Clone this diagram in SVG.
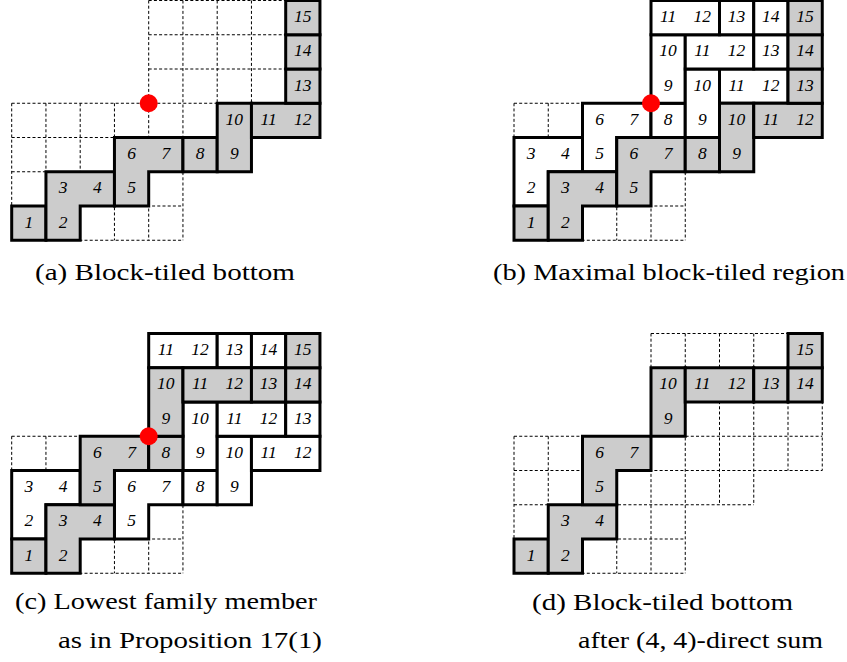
<svg xmlns="http://www.w3.org/2000/svg" xmlns:xlink="http://www.w3.org/1999/xlink" width="847" height="662" viewBox="0 0 847 662">
<style>
.g{fill:#cccccc;stroke:#000;stroke-width:3;stroke-linejoin:miter}
.w{fill:#ffffff;stroke:#000;stroke-width:3;stroke-linejoin:miter}
.n{font-family:"Liberation Serif","Times New Roman",serif;font-style:italic;font-size:17.5px;text-anchor:middle;fill:#000}
.cap{font-family:"Liberation Serif","Times New Roman",serif;font-size:23.5px;fill:#000}
.dot{fill:#ff0000}
</style>
<defs>
<g id="grid" stroke="#000" stroke-width="1" stroke-dasharray="3 2.2" fill="none">
<line x1="137" y1="0" x2="308.25" y2="0"/>
<line x1="137" y1="34.25" x2="308.25" y2="34.25"/>
<line x1="137" y1="68.5" x2="308.25" y2="68.5"/>
<line x1="0" y1="102.75" x2="308.25" y2="102.75"/>
<line x1="0" y1="137" x2="308.25" y2="137"/>
<line x1="0" y1="171.25" x2="239.75" y2="171.25"/>
<line x1="0" y1="205.5" x2="171.25" y2="205.5"/>
<line x1="0" y1="239.75" x2="171.25" y2="239.75"/>
<line x1="0" y1="102.75" x2="0" y2="239.75"/>
<line x1="34.25" y1="102.75" x2="34.25" y2="239.75"/>
<line x1="68.5" y1="102.75" x2="68.5" y2="239.75"/>
<line x1="102.75" y1="102.75" x2="102.75" y2="239.75"/>
<line x1="137" y1="0" x2="137" y2="239.75"/>
<line x1="171.25" y1="0" x2="171.25" y2="239.75"/>
<line x1="205.5" y1="0" x2="205.5" y2="171.25"/>
<line x1="239.75" y1="0" x2="239.75" y2="171.25"/>
<line x1="274" y1="0" x2="274" y2="137"/>
<line x1="308.25" y1="0" x2="308.25" y2="137"/>
</g>
<rect id="c1" width="34.25" height="34.25"/>
<rect id="hd" width="68.5" height="34.25"/>
<rect id="vd" width="34.25" height="68.5"/>
<path id="el" d="M0 0H68.5V34.25H34.25V68.5H0Z"/>
</defs>

<!-- Panel (a) -->
<g id="panel-a" transform="translate(11.7,0.5)">
<use href="#grid" xlink:href="#grid"/>
<g id="a-1"><use href="#c1" xlink:href="#c1" class="g" x="0" y="205.5"/><text class="n" x="17.1" y="227">1</text></g>
<g id="a-2"><use href="#el" xlink:href="#el" class="g" x="34.25" y="171.25"/><text class="n" x="51.35" y="192.75">3</text><text class="n" x="85.6" y="192.75">4</text><text class="n" x="51.35" y="227">2</text></g>
<g id="a-3"><use href="#el" xlink:href="#el" class="g" x="102.75" y="137"/><text class="n" x="119.85" y="158.5">6</text><text class="n" x="154.1" y="158.5">7</text><text class="n" x="119.85" y="192.75">5</text></g>
<g id="a-4"><use href="#c1" xlink:href="#c1" class="g" x="171.25" y="137"/><text class="n" x="188.35" y="158.5">8</text></g>
<g id="a-5"><use href="#vd" xlink:href="#vd" class="g" x="205.5" y="102.75"/><text class="n" x="222.6" y="124.25">10</text><text class="n" x="222.6" y="158.5">9</text></g>
<g id="a-6"><use href="#hd" xlink:href="#hd" class="g" x="239.75" y="102.75"/><text class="n" x="256.85" y="124.25">11</text><text class="n" x="291.1" y="124.25">12</text></g>
<g id="a-7"><use href="#c1" xlink:href="#c1" class="g" x="274" y="68.5"/><text class="n" x="291.1" y="90">13</text></g>
<g id="a-8"><use href="#c1" xlink:href="#c1" class="g" x="274" y="34.25"/><text class="n" x="291.1" y="55.75">14</text></g>
<g id="a-9"><use href="#c1" xlink:href="#c1" class="g" x="274" y="0"/><text class="n" x="291.1" y="21.5">15</text></g>
<circle id="a-dot" class="dot" cx="137" cy="102.75" r="9"/>
</g>

<!-- Panel (b) -->
<g id="panel-b" transform="translate(514,0.5)">
<use href="#grid" xlink:href="#grid"/>
<g id="b-w1"><use href="#el" xlink:href="#el" class="w" x="0" y="137"/><text class="n" x="17.1" y="158.5">3</text><text class="n" x="51.35" y="158.5">4</text><text class="n" x="17.1" y="192.75">2</text></g>
<g id="b-w2"><use href="#el" xlink:href="#el" class="w" x="68.5" y="102.75"/><text class="n" x="85.6" y="124.25">6</text><text class="n" x="119.85" y="124.25">7</text><text class="n" x="85.6" y="158.5">5</text></g>
<g id="b-w3"><use href="#c1" xlink:href="#c1" class="w" x="137" y="102.75"/><text class="n" x="154.1" y="124.25">8</text></g>
<g id="b-w4"><use href="#vd" xlink:href="#vd" class="w" x="137" y="34.25"/><text class="n" x="154.1" y="55.75">10</text><text class="n" x="154.1" y="90">9</text></g>
<g id="b-w5"><use href="#vd" xlink:href="#vd" class="w" x="171.25" y="68.5"/><text class="n" x="188.35" y="90">10</text><text class="n" x="188.35" y="124.25">9</text></g>
<g id="b-w6"><use href="#hd" xlink:href="#hd" class="w" x="205.5" y="68.5"/><text class="n" x="222.6" y="90">11</text><text class="n" x="256.85" y="90">12</text></g>
<g id="b-w7"><use href="#hd" xlink:href="#hd" class="w" x="171.25" y="34.25"/><text class="n" x="188.35" y="55.75">11</text><text class="n" x="222.6" y="55.75">12</text></g>
<g id="b-w8"><use href="#c1" xlink:href="#c1" class="w" x="239.75" y="34.25"/><text class="n" x="256.85" y="55.75">13</text></g>
<g id="b-w9"><use href="#hd" xlink:href="#hd" class="w" x="137" y="0"/><text class="n" x="154.1" y="21.5">11</text><text class="n" x="188.35" y="21.5">12</text></g>
<g id="b-w10"><use href="#c1" xlink:href="#c1" class="w" x="205.5" y="0"/><text class="n" x="222.6" y="21.5">13</text></g>
<g id="b-w11"><use href="#c1" xlink:href="#c1" class="w" x="239.75" y="0"/><text class="n" x="256.85" y="21.5">14</text></g>
<g id="b-1"><use href="#c1" xlink:href="#c1" class="g" x="0" y="205.5"/><text class="n" x="17.1" y="227">1</text></g>
<g id="b-2"><use href="#el" xlink:href="#el" class="g" x="34.25" y="171.25"/><text class="n" x="51.35" y="192.75">3</text><text class="n" x="85.6" y="192.75">4</text><text class="n" x="51.35" y="227">2</text></g>
<g id="b-3"><use href="#el" xlink:href="#el" class="g" x="102.75" y="137"/><text class="n" x="119.85" y="158.5">6</text><text class="n" x="154.1" y="158.5">7</text><text class="n" x="119.85" y="192.75">5</text></g>
<g id="b-4"><use href="#c1" xlink:href="#c1" class="g" x="171.25" y="137"/><text class="n" x="188.35" y="158.5">8</text></g>
<g id="b-5"><use href="#vd" xlink:href="#vd" class="g" x="205.5" y="102.75"/><text class="n" x="222.6" y="124.25">10</text><text class="n" x="222.6" y="158.5">9</text></g>
<g id="b-6"><use href="#hd" xlink:href="#hd" class="g" x="239.75" y="102.75"/><text class="n" x="256.85" y="124.25">11</text><text class="n" x="291.1" y="124.25">12</text></g>
<g id="b-7"><use href="#c1" xlink:href="#c1" class="g" x="274" y="68.5"/><text class="n" x="291.1" y="90">13</text></g>
<g id="b-8"><use href="#c1" xlink:href="#c1" class="g" x="274" y="34.25"/><text class="n" x="291.1" y="55.75">14</text></g>
<g id="b-9"><use href="#c1" xlink:href="#c1" class="g" x="274" y="0"/><text class="n" x="291.1" y="21.5">15</text></g>
<circle id="b-dot" class="dot" cx="137" cy="102.75" r="9"/>
</g>

<!-- Panel (c) -->
<g id="panel-c" transform="translate(11.7,333.5)">
<use href="#grid" xlink:href="#grid"/>
<g id="c-w1"><use href="#el" xlink:href="#el" class="w" x="0" y="137"/><text class="n" x="17.1" y="158.5">3</text><text class="n" x="51.35" y="158.5">4</text><text class="n" x="17.1" y="192.75">2</text></g>
<g id="c-w2"><use href="#el" xlink:href="#el" class="w" x="102.75" y="137"/><text class="n" x="119.85" y="158.5">6</text><text class="n" x="154.1" y="158.5">7</text><text class="n" x="119.85" y="192.75">5</text></g>
<g id="c-w3"><use href="#c1" xlink:href="#c1" class="w" x="171.25" y="137"/><text class="n" x="188.35" y="158.5">8</text></g>
<g id="c-w4"><use href="#vd" xlink:href="#vd" class="w" x="171.25" y="68.5"/><text class="n" x="188.35" y="90">10</text><text class="n" x="188.35" y="124.25">9</text></g>
<g id="c-w5"><use href="#vd" xlink:href="#vd" class="w" x="205.5" y="102.75"/><text class="n" x="222.6" y="124.25">10</text><text class="n" x="222.6" y="158.5">9</text></g>
<g id="c-w6"><use href="#hd" xlink:href="#hd" class="w" x="239.75" y="102.75"/><text class="n" x="256.85" y="124.25">11</text><text class="n" x="291.1" y="124.25">12</text></g>
<g id="c-w7"><use href="#hd" xlink:href="#hd" class="w" x="205.5" y="68.5"/><text class="n" x="222.6" y="90">11</text><text class="n" x="256.85" y="90">12</text></g>
<g id="c-w8"><use href="#c1" xlink:href="#c1" class="w" x="274" y="68.5"/><text class="n" x="291.1" y="90">13</text></g>
<g id="c-w9"><use href="#hd" xlink:href="#hd" class="w" x="137" y="0"/><text class="n" x="154.1" y="21.5">11</text><text class="n" x="188.35" y="21.5">12</text></g>
<g id="c-w10"><use href="#c1" xlink:href="#c1" class="w" x="205.5" y="0"/><text class="n" x="222.6" y="21.5">13</text></g>
<g id="c-w11"><use href="#c1" xlink:href="#c1" class="w" x="239.75" y="0"/><text class="n" x="256.85" y="21.5">14</text></g>
<g id="c-1"><use href="#c1" xlink:href="#c1" class="g" x="0" y="205.5"/><text class="n" x="17.1" y="227">1</text></g>
<g id="c-2"><use href="#el" xlink:href="#el" class="g" x="34.25" y="171.25"/><text class="n" x="51.35" y="192.75">3</text><text class="n" x="85.6" y="192.75">4</text><text class="n" x="51.35" y="227">2</text></g>
<g id="c-3"><use href="#el" xlink:href="#el" class="g" x="68.5" y="102.75"/><text class="n" x="85.6" y="124.25">6</text><text class="n" x="119.85" y="124.25">7</text><text class="n" x="85.6" y="158.5">5</text></g>
<g id="c-4"><use href="#c1" xlink:href="#c1" class="g" x="137" y="102.75"/><text class="n" x="154.1" y="124.25">8</text></g>
<g id="c-5"><use href="#vd" xlink:href="#vd" class="g" x="137" y="34.25"/><text class="n" x="154.1" y="55.75">10</text><text class="n" x="154.1" y="90">9</text></g>
<g id="c-6"><use href="#hd" xlink:href="#hd" class="g" x="171.25" y="34.25"/><text class="n" x="188.35" y="55.75">11</text><text class="n" x="222.6" y="55.75">12</text></g>
<g id="c-7"><use href="#c1" xlink:href="#c1" class="g" x="239.75" y="34.25"/><text class="n" x="256.85" y="55.75">13</text></g>
<g id="c-8"><use href="#c1" xlink:href="#c1" class="g" x="274" y="34.25"/><text class="n" x="291.1" y="55.75">14</text></g>
<g id="c-9"><use href="#c1" xlink:href="#c1" class="g" x="274" y="0"/><text class="n" x="291.1" y="21.5">15</text></g>
<circle id="c-dot" class="dot" cx="137" cy="102.75" r="9"/>
</g>

<!-- Panel (d) -->
<g id="panel-d" transform="translate(514,333.5)">
<use href="#grid" xlink:href="#grid"/>
<g id="d-1"><use href="#c1" xlink:href="#c1" class="g" x="0" y="205.5"/><text class="n" x="17.1" y="227">1</text></g>
<g id="d-2"><use href="#el" xlink:href="#el" class="g" x="34.25" y="171.25"/><text class="n" x="51.35" y="192.75">3</text><text class="n" x="85.6" y="192.75">4</text><text class="n" x="51.35" y="227">2</text></g>
<g id="d-3"><use href="#el" xlink:href="#el" class="g" x="68.5" y="102.75"/><text class="n" x="85.6" y="124.25">6</text><text class="n" x="119.85" y="124.25">7</text><text class="n" x="85.6" y="158.5">5</text></g>
<g id="d-5"><use href="#vd" xlink:href="#vd" class="g" x="137" y="34.25"/><text class="n" x="154.1" y="55.75">10</text><text class="n" x="154.1" y="90">9</text></g>
<g id="d-6"><use href="#hd" xlink:href="#hd" class="g" x="171.25" y="34.25"/><text class="n" x="188.35" y="55.75">11</text><text class="n" x="222.6" y="55.75">12</text></g>
<g id="d-7"><use href="#c1" xlink:href="#c1" class="g" x="239.75" y="34.25"/><text class="n" x="256.85" y="55.75">13</text></g>
<g id="d-8"><use href="#c1" xlink:href="#c1" class="g" x="274" y="34.25"/><text class="n" x="291.1" y="55.75">14</text></g>
<g id="d-9"><use href="#c1" xlink:href="#c1" class="g" x="274" y="0"/><text class="n" x="291.1" y="21.5">15</text></g>
</g>

<!-- Captions -->
<g id="captions">
<text class="cap" x="35" y="279.5" textLength="260" lengthAdjust="spacingAndGlyphs">(a) Block-tiled bottom</text>
<text class="cap" x="493" y="279.5" textLength="352" lengthAdjust="spacingAndGlyphs">(b) Maximal block-tiled region</text>
<text class="cap" x="15" y="608.5" textLength="302" lengthAdjust="spacingAndGlyphs">(c) Lowest family member</text>
<text class="cap" x="58" y="647.5" textLength="264" lengthAdjust="spacingAndGlyphs">as in Proposition 17(1)</text>
<text class="cap" x="532" y="609.5" textLength="261" lengthAdjust="spacingAndGlyphs">(d) Block-tiled bottom</text>
<text class="cap" x="578" y="648" textLength="245" lengthAdjust="spacingAndGlyphs">after (4, 4)-direct sum</text>
</g>
</svg>
